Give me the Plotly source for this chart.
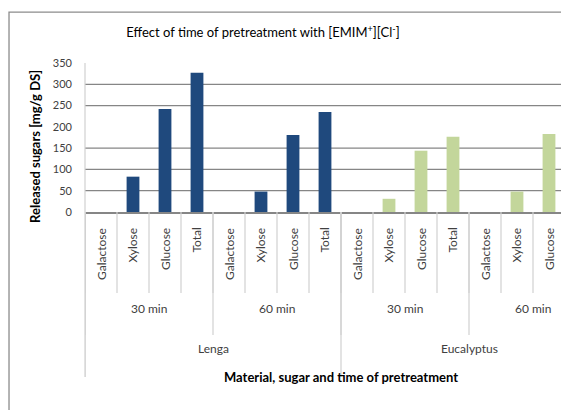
import plotly.graph_objects as go

materials = ["Lenga", "Eucalyptus"]
times = ["30 min", "60 min"]
sugars = ["Galactose", "Xylose", "Glucose", "Total"]

lenga_values = [0, 83, 242, 327, 0, 48, 181, 235]
eucalyptus_values = [0, 31, 144, 177, 0, 48, 183, None]

y_ticks = [0, 50, 100, 150, 200, 250, 300, 350]
grid_values = [50, 100, 150, 250, 300]

bar_colors = {"Lenga": "#1F497D", "Eucalyptus": "#C3D69B"}

FONT = "Lato"
TXT = "#404040"

n_s = len(sugars)
n_t = len(times)
cats = []
for m in materials:
    for t in times:
        for s in sugars:
            cats.append((m, t, s))
idx = list(range(len(cats)))

fig = go.Figure()
series = {"Lenga": lenga_values, "Eucalyptus": eucalyptus_values}
for mi, m in enumerate(materials):
    xs = idx[mi * n_s * n_t:(mi + 1) * n_s * n_t]
    fig.add_trace(go.Bar(x=xs, y=series[m], marker=dict(color=bar_colors[m], line=dict(width=0)),
                         width=0.4, name=m, showlegend=False))

shapes = []
for g in grid_values:
    shapes.append(dict(type="line", xref="paper", yref="y", x0=0, x1=1, y0=g, y1=g,
                       line=dict(color="#868686", width=1.3), layer="below"))
div_color = "#D0D0D0"
for k in range(len(cats) + 1):
    shapes.append(dict(type="line", xref="x", yref="paper", x0=k - 0.5, x1=k - 0.5, y0=0, y1=-0.544,
                       line=dict(color=div_color, width=1.2)))
for k in range(0, len(cats) + 1, n_s):
    shapes.append(dict(type="line", xref="x", yref="paper", x0=k - 0.5, x1=k - 0.5, y0=0, y1=-0.826,
                       line=dict(color=div_color, width=1.2)))
for k in range(0, len(cats) + 1, n_s * n_t):
    shapes.append(dict(type="line", xref="x", yref="paper", x0=k - 0.5, x1=k - 0.5, y0=0, y1=-1.107,
                       line=dict(color=div_color, width=1.2)))
shapes.append(dict(type="line", xref="paper", yref="paper", x0=0, x1=0, y0=1, y1=-1.107,
                   line=dict(color="#D0D0D0", width=1.2)))
shapes.append(dict(type="rect", xref="paper", yref="paper", x0=-0.157, x1=1.05, y0=1.342, y1=-1.45,
                   line=dict(color="#8C8C8C", width=1.3), fillcolor="rgba(0,0,0,0)"))

annotations = []
for i, (m, t, s) in enumerate(cats):
    if i > 14:
        continue
    annotations.append(dict(x=i, y=-0.094, xref="x", yref="paper", text=s, textangle=-90,
                            showarrow=False, xanchor="center", yanchor="top",
                            font=dict(family=FONT, size=12, color=TXT)))
for mi, m in enumerate(materials):
    for ti, t in enumerate(times):
        start = (mi * n_t + ti) * n_s
        annotations.append(dict(x=start + (n_s - 1) / 2, y=-0.711, xref="x", yref="paper", text=t,
                                showarrow=False, font=dict(family=FONT, size=12, color=TXT)))
    start = mi * n_t * n_s
    annotations.append(dict(x=start + (n_t * n_s - 1) / 2, y=-0.98, xref="x", yref="paper", text=m,
                            showarrow=False, font=dict(family=FONT, size=12, color=TXT)))
annotations.append(dict(x=(len(cats) - 1) / 2, y=-1.174, xref="x", yref="paper",
                        text="<b>Material, sugar and time of pretreatment</b>", showarrow=False,
                        font=dict(family=FONT, size=13, color="#000000")))
annotations.append(dict(x=-0.123, y=0.44, xref="paper", yref="paper", textangle=-90,
                        text="<b>Released sugars [mg/g DS]</b>", showarrow=False,
                        font=dict(family=FONT, size=13, color="#000000")))

fig.update_layout(
    width=561, height=402,
    margin=dict(l=77, r=0, t=55, b=198),
    paper_bgcolor="white", plot_bgcolor="white",
    title=dict(text="Effect of time of pretreatment with [EMIM<sup>+</sup>][Cl<sup>-</sup>]",
               x=0.4545, y=0.938, xref="container", yref="container", xanchor="center", yanchor="middle",
               font=dict(family=FONT, size=13, color="#000000")),
    xaxis=dict(range=[-0.5, 14.625], showticklabels=False, showgrid=False, zeroline=False,
               showline=True, linecolor="#868686", linewidth=2, ticks=""),
    yaxis=dict(range=[0, 350], tickvals=y_ticks, showgrid=False, zeroline=False, showline=False,
               ticks="", ticklabelstandoff=12,
               tickfont=dict(family=FONT, size=11, color=TXT)),
    shapes=shapes, annotations=annotations, bargap=0.6,
)

fig.write_html("out.html")
